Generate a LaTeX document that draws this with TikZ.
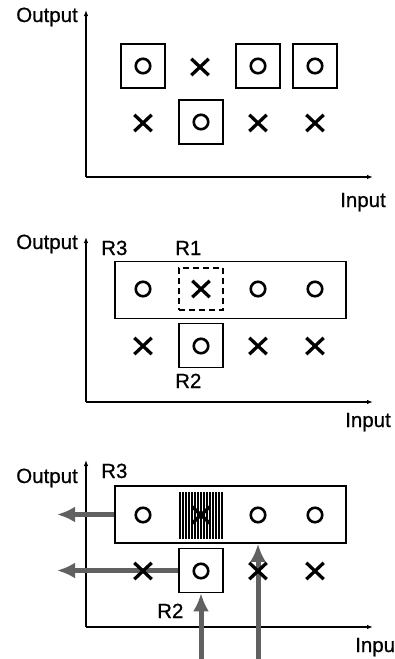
\documentclass[tikz,border=0pt]{standalone}
\usepackage{fontspec}
\setmainfont[FakeBold=0.7]{Liberation Sans}
\usetikzlibrary{shapes.misc,arrows.meta,patterns.meta}
\begin{document}
\begin{tikzpicture}[x=1pt,y=-1pt,
  every node/.style={inner sep=0pt},
  lbl/.style={font=\fontsize{20.5}{22}\selectfont, anchor=base west},
  axis/.style={line width=1.4pt,-{Latex[length=6pt,width=4.5pt]}},
  ocirc/.style={circle,draw,line width=2.6pt,minimum size=14.5pt},
  xmark/.style={cross out,draw,line width=3.3pt,minimum width=14pt,minimum height=13pt},
  sqbox/.style={rectangle,draw,line width=1.6pt,minimum width=44pt,minimum height=44pt},
  bigbox/.style={rectangle,draw,line width=1.6pt,minimum width=231pt,minimum height=57pt},
  dashbox/.style={rectangle,draw,line width=1.6pt,dash pattern=on 6pt off 4pt,minimum width=44pt,minimum height=42pt},
  hatchbox/.style={rectangle,minimum width=45pt,minimum height=46pt,
     pattern={Lines[angle=90,distance=3pt,line width=2pt]},pattern color=black},
  garrow/.style={line width=5pt,draw=black!62,-{Latex[length=18pt,width=16pt]}}
]
\fill[white] (0,0) rectangle (395,659);
\useasboundingbox (0,0) rectangle (395,659);

% ---------- Panel 1 ----------
\coordinate (o1) at (86,177);
\coordinate (t1) at (86,10);
\coordinate (r1) at (373,177);
\draw[axis] (o1) -- (t1);
\draw[axis] (o1) -- (r1);
\node[lbl,anchor=base east] (out1) at (78,22) {Output};
\node[lbl] (in1) at (340,207) {Input};
\node[sqbox] (b11) at (143,66) {};
\node[sqbox] (b13) at (258,66) {};
\node[sqbox] (b14) at (315,66) {};
\node[sqbox] (b22) at (201,122) {};
\node[ocirc] (c11) at (143,66) {};
\node[xmark] (x12) at (200,67) {};
\node[ocirc] (c13) at (258,66) {};
\node[ocirc] (c14) at (315,66) {};
\node[xmark] (x21) at (143,123) {};
\node[ocirc] (c22) at (201,122) {};
\node[xmark] (x23) at (258,123) {};
\node[xmark] (x24) at (315,123) {};

% ---------- Panel 2 ----------
\coordinate (o2) at (86,402);
\coordinate (t2) at (86,237);
\coordinate (r2) at (373,402);
\draw[axis] (o2) -- (t2);
\draw[axis] (o2) -- (r2);
\node[lbl,anchor=base east] (out2) at (78,249) {Output};
\node[lbl] (in2) at (345,427) {Input};
\node[lbl] (R3a) at (101,255) {R3};
\node[lbl] (R1a) at (175,255) {R1};
\node[lbl] (R2a) at (175,388) {R2};
\node[bigbox] (big2) at (230.5,290) {};
\node[dashbox] (d2) at (201,289) {};
\node[sqbox] (s2) at (201,345.5) {};
\node[ocirc] (p2c1) at (143,289) {};
\node[xmark] (p2x2) at (201,289) {};
\node[ocirc] (p2c3) at (258,289) {};
\node[ocirc] (p2c4) at (315,289) {};
\node[xmark] (p2x21) at (143,346) {};
\node[ocirc] (p2c22) at (201,346) {};
\node[xmark] (p2x23) at (258,346) {};
\node[xmark] (p2x24) at (315,346) {};

% ---------- Panel 3 ----------
\coordinate (o3) at (86,627);
\coordinate (t3) at (86,460);
\coordinate (r3) at (373,627);
\draw[axis] (o3) -- (t3);
\draw[axis] (o3) -- (r3);
\node[lbl,anchor=base east] (out3) at (78,483) {Output};
\node[lbl] (in3) at (355,652) {Inpu};
\node[lbl] (R3b) at (101,478) {R3};
\node[lbl] (R2b) at (157,618) {R2};
\node[bigbox] (big3) at (230.5,514.5) {};
\node[hatchbox] (h3) at (201,515) {};
\node[sqbox] (s3) at (201,570.5) {};

\coordinate (la1) at (57,514.5);
\coordinate (la2) at (57,570.5);
\coordinate (ub1) at (201,662);
\coordinate (ub2) at (258,662);
\draw[garrow] (big3.west) -- (la1);
\draw[garrow] (s3.west) -- (la2);
\draw[garrow] (ub1) -- (s3.south);
\draw[garrow] (ub2) -- (ub2 |- big3.south);

\node[ocirc] (p3c1) at (143,515) {};
\node[xmark] (p3x2) at (201,515) {};
\node[ocirc] (p3c3) at (258,515) {};
\node[ocirc] (p3c4) at (315,515) {};
\node[xmark] (p3x21) at (143,571) {};
\node[ocirc] (p3c22) at (201,571) {};
\node[xmark] (p3x23) at (258,571) {};
\node[xmark] (p3x24) at (315,571) {};
\end{tikzpicture}
\end{document}
